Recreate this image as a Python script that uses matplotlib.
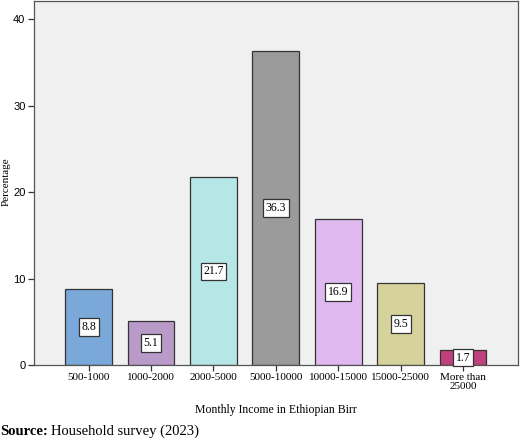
import numpy as np
import matplotlib
matplotlib.use("Agg")
import matplotlib.pyplot as plt

## Data ########################

categories = ['500-1000', '1000-2000', '2000-5000', '5000-10000',
              '10000-15000', '15000-25000', 'More than\n25000']
percent = [8.8, 5.1, 21.7, 36.3, 16.9, 9.5, 1.7]
bar_colors = ['#7aa8d8', '#b99ac9', '#b5e7e7', '#9b9b9b',
              '#e0b9f1', '#d5d29b', '#c0407d']
y_ticks = [0, 10, 20, 30, 40]

## Plot ########################

serif = 'Liberation Serif'
sans = 'Liberation Sans'

fig = plt.figure(figsize=(5.2, 4.42), dpi=100)
ax = fig.add_axes([0.065, 0.1742, 0.931, 0.8235])
ax.set_facecolor('#f0f0f0')

x = np.arange(len(categories))
ax.bar(x, percent, width=0.75, color=bar_colors, edgecolor='#333333',
       linewidth=0.9, zorder=2)

for xi, val in zip(x, percent):
    ax.text(xi, val / 2, f'{val}', ha='center', va='center',
            family=serif, fontsize=8.5, zorder=3,
            bbox=dict(boxstyle='square,pad=0.22', fc='white',
                      ec='#333333', lw=0.9))

ax.set_xlim(-0.88, len(categories) - 0.12)
ax.set_ylim(0, 42.1)
ax.set_xticks(x)
ax.set_xticklabels(categories, family=serif, fontsize=8, linespacing=1.0)
ax.set_yticks(y_ticks)
ax.set_yticklabels([str(t) for t in y_ticks], family=sans, fontsize=8)
ax.tick_params(axis='both', length=4, width=0.9, color='#333333', pad=2)

for s in ax.spines.values():
    s.set_color('#555555')
    s.set_linewidth(0.9)

fig.text(0.012, 0.588, 'Percentage', family=serif, fontsize=8,
         rotation=90, ha='center', va='center')
ax.set_xlabel('Monthly Income in Ethiopian Birr', family=serif, fontsize=8.5,
              labelpad=9)

fig.text(0.0, 0.016, 'Source:', family=serif, fontsize=10.5,
         fontweight='bold', ha='left', va='baseline')
fig.text(0.099, 0.016, 'Household survey (2023)', family=serif,
         fontsize=10.5, ha='left', va='baseline')

fig.savefig('out.png', dpi=100)
